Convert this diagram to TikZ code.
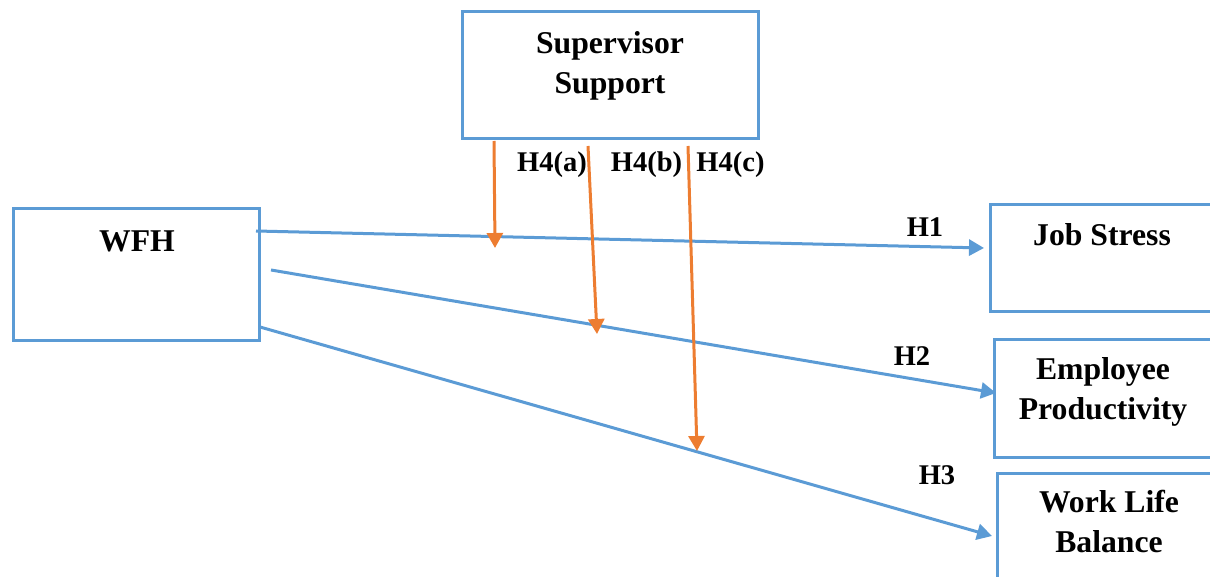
\documentclass[tikz,border=0pt]{standalone}
\usepackage{fontspec}
\setmainfont{Liberation Serif}
\usetikzlibrary{arrows.meta}
\definecolor{boxblue}{HTML}{5B9BD5}
\definecolor{modorange}{HTML}{ED7D31}
\begin{document}
\begin{tikzpicture}[x=1pt,y=-1pt,
  box/.style={draw=boxblue,line width=3pt,inner sep=0pt,fill=none},
  maintext/.style={font=\bfseries\fontsize{31.7}{40}\selectfont,inner sep=0pt,align=center},
  hlabel/.style={font=\bfseries\fontsize{28.5}{34}\selectfont,inner sep=0pt,anchor=base},
  patharrow/.style={draw=boxblue,line width=3pt,-{Triangle[length=15pt,width=16pt]}},
  modarrow/.style={draw=modorange,line width=3pt,-{Triangle[length=15pt,width=16pt]}}
]
\useasboundingbox (0,0) rectangle (1210,577);
\clip (0,0) rectangle (1210,577);
% boxes
\node[box,minimum width=296pt,minimum height=127pt] (ss) at (610,75.5) {};
\node[box,minimum width=246pt,minimum height=131pt] (wfh) at (136,274.5) {};
\node[box,minimum width=250pt,minimum height=107pt] (js) at (1115,258.5) {};
\node[box,minimum width=246pt,minimum height=118pt] (ep) at (1117,398) {};
\node[box,minimum width=243pt,minimum height=127pt] (wlb) at (1118.5,536.5) {};
% texts
\node[maintext,anchor=north] (sst) at (610,31.5) {Supervisor\\Support};
\node[maintext,anchor=base] (wfht) at (137,252) {WFH};
\node[maintext,anchor=base] (jst) at (1102,246) {Job Stress};
\node[maintext,anchor=north] (ept) at (1103,357.6) {Employee\\Productivity};
\node[maintext,anchor=north] (wlbt) at (1109,490) {Work Life\\Balance};
% labels
\node[hlabel] (la) at (552,172) {H4(a)};
\node[hlabel] (lb) at (646.5,172) {H4(b)};
\node[hlabel] (lc) at (730.5,172) {H4(c)};
\node[hlabel] (l1) at (925,237) {H1};
\node[hlabel] (l2) at (912,365) {H2};
\node[hlabel] (l3) at (937,484) {H3};
% connector end points
\coordinate (h1s) at (256,231); \coordinate (h1e) at (984,248);
\coordinate (h2s) at (271,270); \coordinate (h2e) at (996,393);
\coordinate (h3s) at (260,327); \coordinate (h3e) at (992,536);
\coordinate (h4as) at (494,141); \coordinate (h4ae) at (495,248);
\coordinate (h4bs) at (588,146); \coordinate (h4be) at (597,334);
\coordinate (h4cs) at (688,146); \coordinate (h4ce) at (697,451);
% connectors
\draw[patharrow] (h1s) -- (h1e);
\draw[patharrow] (h2s) -- (h2e);
\draw[patharrow] (h3s) -- (h3e);
\draw[modarrow] (h4as) -- (h4ae);
\draw[modarrow] (h4bs) -- (h4be);
\draw[modarrow] (h4cs) -- (h4ce);
\end{tikzpicture}
\end{document}
